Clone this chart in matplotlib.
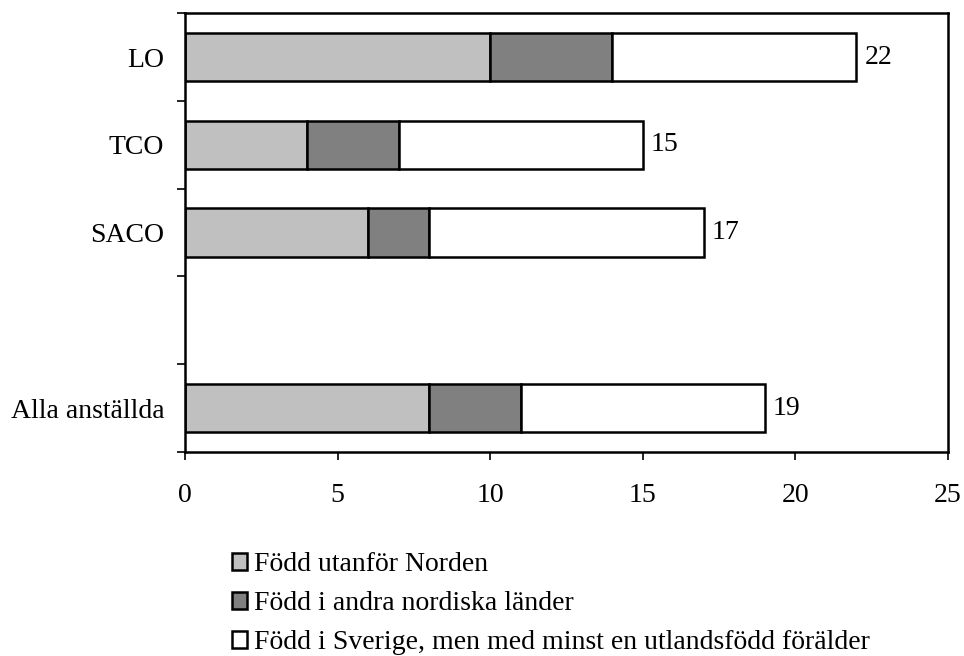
import matplotlib.pyplot as plt
import numpy as np

plt.rcParams['font.family'] = ['Liberation Serif', 'DejaVu Serif']

categories = ["LO", "TCO", "SACO", "", "Alla anställda"]
utanfor_norden = [10, 4, 6, 0, 8]
nordiska = [4, 3, 2, 0, 3]
sverige_utl_foralder = [8, 8, 9, 0, 8]
totals = [22, 15, 17, None, 19]
series_names = ["Född utanför Norden",
                "Född i andra nordiska länder",
                "Född i Sverige, men med minst en utlandsfödd förälder"]
colors = ["#C0C0C0", "#808080", "#FFFFFF"]

fig = plt.figure(figsize=(9.64, 6.56), dpi=100)
ax = fig.add_axes([0.192, 0.311, 0.791, 0.669])

y = np.arange(len(categories))[::-1]
left = np.zeros(len(categories))
handles = []
for vals, col, name in zip([utanfor_norden, nordiska, sverige_utl_foralder], colors, series_names):
    vals = np.array(vals, dtype=float)
    mask = vals > 0
    b = ax.barh(y[mask], vals[mask], left=left[mask], height=0.55, color=col,
                edgecolor="black", linewidth=1.8, label=name)
    handles.append(b)
    left += vals

for yi, t in zip(y, totals):
    if t is not None:
        ax.text(t + 0.27, yi, str(t), va="center", ha="left", fontsize=20)

ax.set_xlim(0, 25)
ax.set_ylim(-0.5, len(categories) - 0.5)
ax.set_xticks(range(0, 26, 5))
ax.set_yticks(np.arange(-0.5, len(categories), 1.0))
ax.set_yticklabels([])
ax.set_yticks(y, labels=categories, minor=True)
ax.tick_params(axis="y", which="minor", length=0, pad=15, labelsize=20)
ax.tick_params(axis="y", which="major", length=6, width=1.2)
ax.tick_params(axis="x", length=6, width=1.2, labelsize=20, pad=16)
for s in ax.spines.values():
    s.set_linewidth(1.8)

fig.legend(handles=handles, loc="upper left", bbox_to_anchor=(0.226, 0.179),
           frameon=False, fontsize=20, handlelength=0.55, handleheight=0.55,
           handletextpad=0.25, labelspacing=0.5, borderpad=0)

fig.savefig("out.png", dpi=100)
